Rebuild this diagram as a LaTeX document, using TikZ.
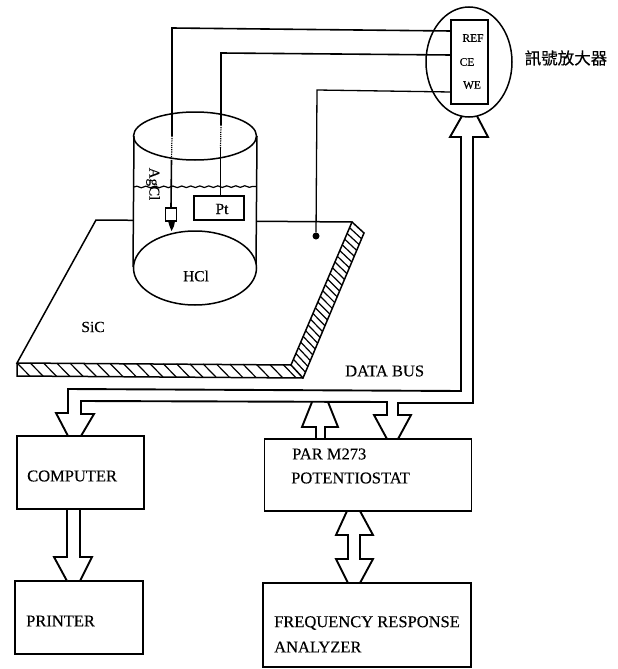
\documentclass[tikz,border=0pt]{standalone}
\usepackage{fontspec}
\setmainfont[FakeBold=0.3]{Liberation Serif}
\newfontfamily\cjkfont[FakeBold=0.4]{Noto Sans CJK TC}
\usetikzlibrary{decorations.pathmorphing,shapes.geometric}
\tikzset{
  box/.style={draw,line width=1.8pt,fill=white,inner sep=0pt},
  lbl/.style={inner sep=0pt,anchor=west,font=\fontsize{16.5}{18}\selectfont},
  lblsm/.style={inner sep=0pt,font=\fontsize{11.5}{13}\selectfont},
  wire/.style={line width=1.6pt},
  thin wire/.style={line width=1.3pt},
  dotwire/.style={line width=1.2pt,densely dotted},
  blockarrow/.style={line width=1.9pt,line join=miter,fill=white},
  hatchline/.style={line width=1.2pt},
  outline/.style={line width=1.5pt,line join=miter}
}
\begin{document}
\begin{tikzpicture}[x=1pt,y=-1pt]
\useasboundingbox (0,0) rectangle (618,669);
% plate
\coordinate (pTL) at (96,220); \coordinate (pTR) at (352,222);
\coordinate (pRO) at (364,233); \coordinate (pFR) at (291,365);
\coordinate (pBR) at (303,378); \coordinate (pFL) at (17,363);
\coordinate (pBL) at (17,376);
\draw[outline] (pTL)--(pTR)--(pFR)--(pFL)--cycle;
\draw[outline] (pTR)--(pRO)--(pBR)--(pBL)--(pFL);
\draw[outline] (pFR)--(pBR);
% hatching, front strip
\foreach \i in {0,...,20}{
  \draw[hatchline] ({17+\i*13.3},{363+\i*0.07}) -- ({30+\i*13.3},{376.2+\i*0.08});
}
% hatching, right strip
\foreach \i in {1,...,24}{
  \draw[hatchline] ({352-\i*2.44},{222+\i*5.72}) -- ({364-\i*2.44},{233+\i*5.8});
}
% cylinder
\fill[white] (134,136) rectangle (256,267);
\draw[outline] (134,136) -- (133,267);
\draw[outline] (257,136) -- (256,267);
\node[draw,line width=1.5pt,fill=white,ellipse,minimum width=123pt,minimum height=74pt,inner sep=0pt] (bottom) at (195,268) {};
\node[draw,line width=1.5pt,ellipse,minimum width=123pt,minimum height=48pt,inner sep=0pt] (top) at (195,136) {};
\draw[line width=1.2pt,decorate,decoration={snake,amplitude=0.8pt,segment length=9pt}] (134,187) -- (256,186.5);
% amplifier
\node[draw,line width=1.5pt,ellipse,minimum width=86pt,minimum height=110pt,inner sep=0pt] (amp) at (469,62) {};
\node[box,line width=1.5pt,minimum width=37pt,minimum height=84pt] (ampbox) at (469.5,62) {};
\node[lblsm] (ref) at (473,38) {REF};
\node[lblsm] (ce) at (467,62) {CE};
\node[lblsm] (we) at (472,85) {WE};
\node[inner sep=0pt,font=\cjkfont\fontsize{16.5}{18}\selectfont] (cn) at (566,58) {訊號放大器};
% electrodes
\node[box,line width=1.4pt,minimum width=11pt,minimum height=13pt] (agcl) at (171,214.5) {};
\fill (168,221) -- (175,221) -- (174,226) -- (171.5,231) -- (169.5,226) -- cycle;
\node[box,minimum width=50pt,minimum height=24pt] (pt) at (219,208) {};
\node[inner sep=0pt,font=\fontsize{15.5}{16}\selectfont] (pttext) at (222,209) {Pt};
\coordinate (refEnd) at (451,31); \coordinate (ceEnd) at (451,55); \coordinate (weEnd) at (451,92);
\coordinate (refTop) at (172,28); \coordinate (ceTop) at (221,53); \coordinate (weTop) at (317,90);
\coordinate (refA) at (172,136); \coordinate (refB) at (171.5,160);
\coordinate (ceA) at (221,125); \coordinate (ceB) at (220.5,148);
\draw[wire] (refEnd) -- (refTop) -- (refA);
\draw[dotwire] (refA) -- (refB);
\draw[wire] (refB) -- (agcl.north);
\draw[wire] (ceEnd) -- (ceTop) -- (ceA);
\draw[dotwire] (ceA) -- (ceB);
\draw[wire] (ceB) -- (pt.north -| ceB);
\node[circle,fill=black,minimum size=7pt,inner sep=0pt] (contact) at (316,236) {};
\draw[thin wire] (weEnd) -- (weTop) -- (contact);
% text on the picture
\node[inner sep=0pt,rotate=-90,font=\fontsize{15}{17}\selectfont] (agcltext) at (153,184) {AgCl};
\node[inner sep=0pt,font=\fontsize{15.5}{18}\selectfont] (hcl) at (196,276) {HCl};
\node[inner sep=0pt,font=\fontsize{15.5}{18}\selectfont] (sic) at (93,327) {SiC};
\node[lbl] (bus) at (345,371) {DATA BUS};
% boxes
\node[box,minimum width=127pt,minimum height=73pt] (computer) at (80.5,472.5) {};
\node[box,minimum width=128pt,minimum height=73pt] (printer) at (79,617.5) {};
\node[box,minimum width=207pt,minimum height=72pt] (par) at (368,475) {};
\node[box,minimum width=208pt,minimum height=84pt] (fra) at (367,625) {};
\node[lbl] (t1) at (27,476) {COMPUTER};
\node[lbl] (t2) at (26,621) {PRINTER};
\node[lbl] (t3) at (292,454) {PAR M273};
\node[lbl] (t4) at (291,478) {POTENTIOSTAT};
\node[lbl] (t5) at (274,623) {FREQUENCY RESPONSE};
\node[lbl] (t6) at (274,647) {ANALYZER};
% data bus block arrows
\draw[blockarrow,fill=none] (462,116) -- (450,137) -- (461,137) -- (461,391) -- (68,389) -- (68,413) -- (56,413)
  -- (68,436) (81,436) -- (94,414) -- (81,414) -- (81,401) -- (387,402) -- (387,415) -- (374,415)
  -- (387,439) (398,439) -- (411,415) -- (398,415) -- (398,403) -- (473,403) -- (473,137) -- (488,137) -- (477,116);
\draw[blockarrow,fill=none] (312,402) -- (302,427) -- (316,427) -- (316,439) (325,439) -- (325,427) -- (338,427) -- (328,402);
\draw[blockarrow] (67,509) -- (67,557) -- (54,557) -- (67,581) (80,581) -- (92,557) -- (80,557) -- (80,509);
\draw[blockarrow] (347,511) -- (336,535) -- (348,535) -- (348,559) -- (336,559) -- (348,583)
  (360,583) -- (373,559) -- (360,559) -- (360,535) -- (373,535) -- (360,511);
\end{tikzpicture}
\end{document}
